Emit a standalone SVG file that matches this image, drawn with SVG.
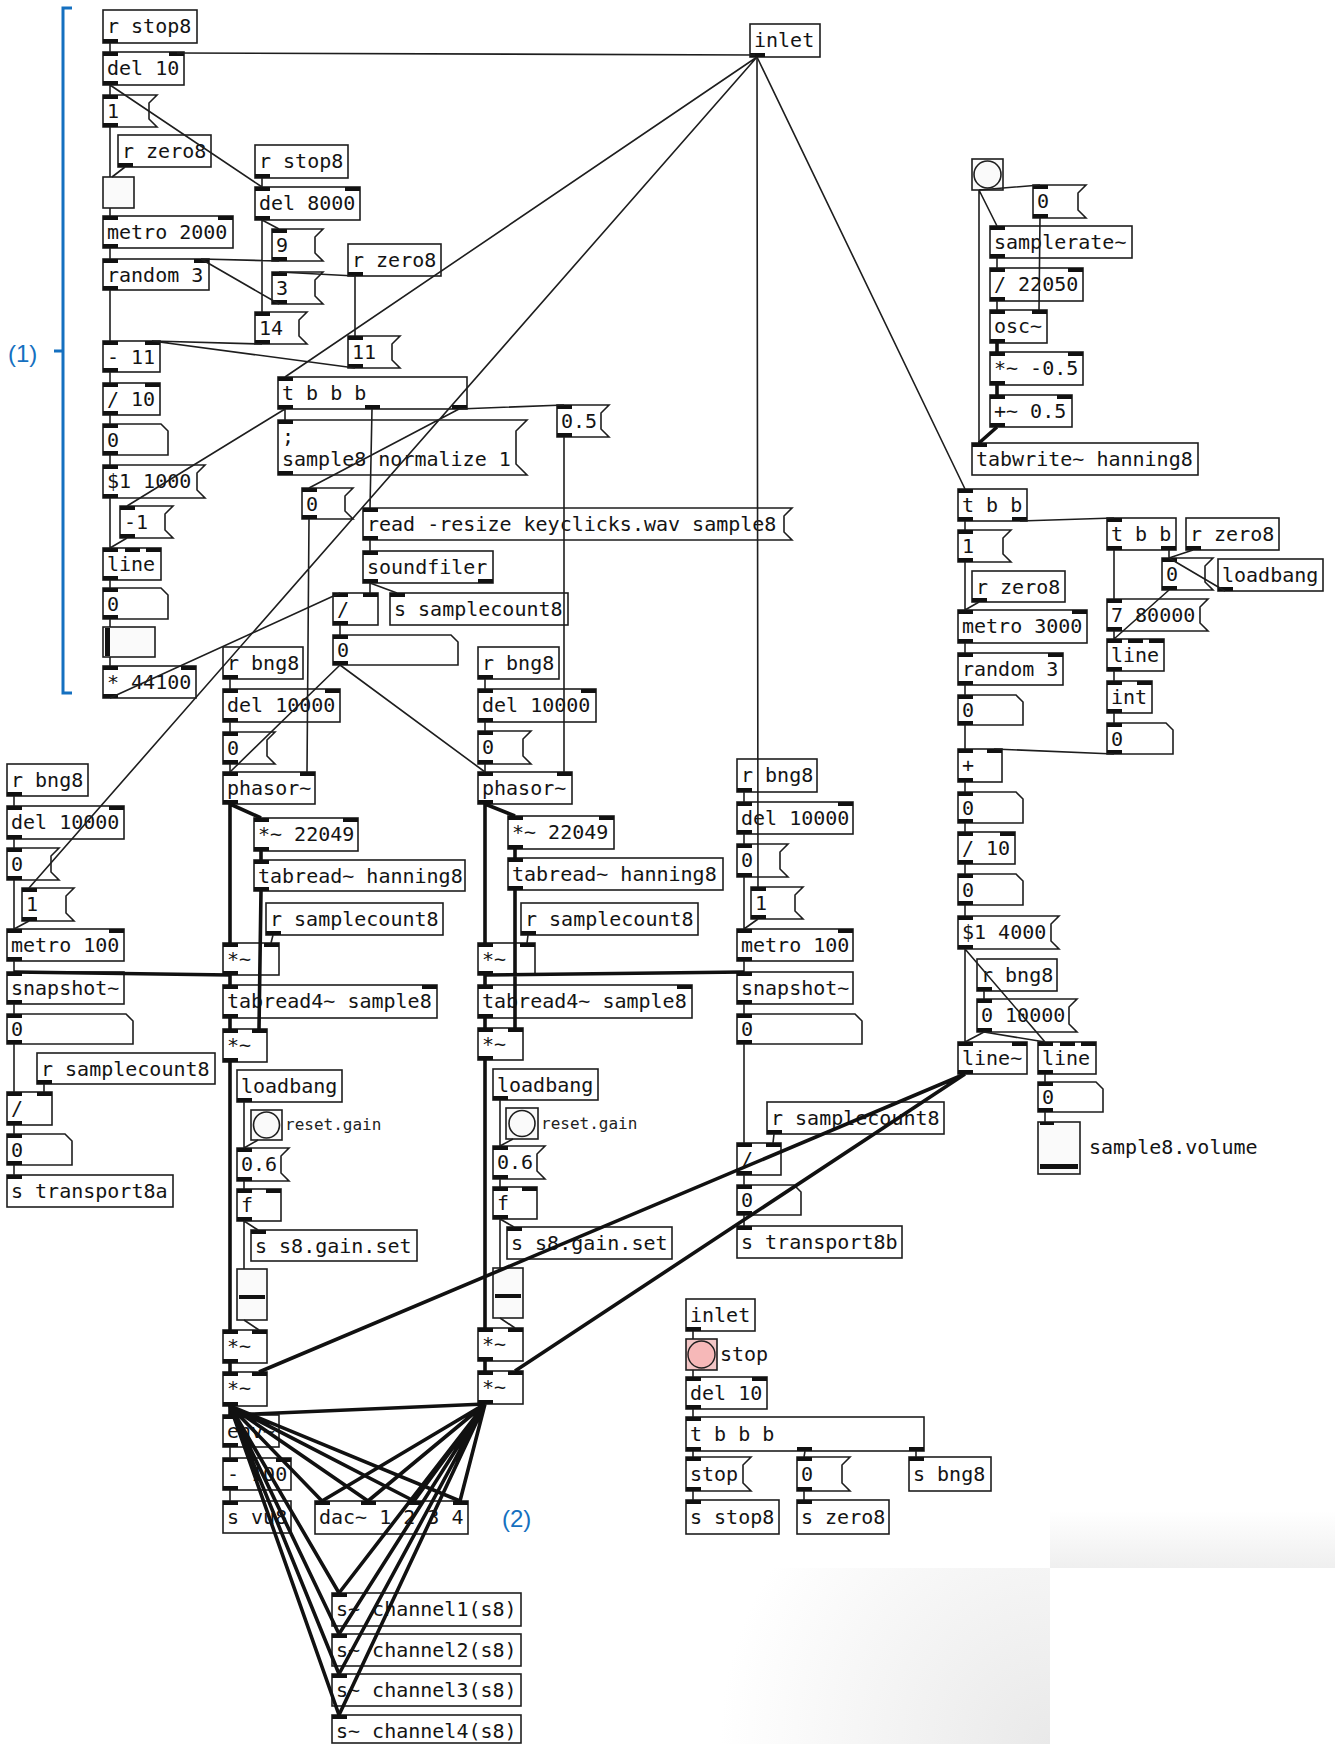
<svg xmlns="http://www.w3.org/2000/svg" width="1335" height="1744" viewBox="0 0 1335 1744">
<defs>
<style>
.b{fill:#fff;stroke:#1e1e1e;stroke-width:1.6}
.g{fill:#fafafa;stroke:#1e1e1e;stroke-width:1.6}
.t{font-family:"DejaVu Sans Mono","Liberation Mono",monospace;font-size:20px;fill:#141414}
.lbl{font-family:"DejaVu Sans Mono","Liberation Mono",monospace;font-size:16px;fill:#222}
.io{fill:#111}
.c{stroke:#1e1e1e;stroke-width:1.6;fill:none}
.s{stroke:#111;stroke-width:3.6;fill:none}
.blue{font-family:"Liberation Sans",Arial,sans-serif;font-size:24px;fill:#1570c0}
</style>
<linearGradient id="g1" x1="0" y1="0" x2="0" y2="1"><stop offset="0" stop-color="#fff"/><stop offset="1" stop-color="#efefef"/></linearGradient>
<radialGradient id="g2" cx="1050" cy="1744" r="330" gradientUnits="userSpaceOnUse"><stop offset="0" stop-color="#e9e9e9"/><stop offset="1" stop-color="#fff"/></radialGradient>
</defs>
<rect width="1335" height="1744" fill="#fff"/>
<g id="bg">
<rect x="1050" y="1511" width="285" height="57" fill="url(#g1)"/>
<rect x="700" y="1568" width="350" height="176" fill="url(#g2)"/>
</g>
<g id="annot">
<path d="M72,8 H63 V693 H72 M54,351 H63" stroke="#1570c0" stroke-width="3" fill="none"/>
<text class="blue" x="8" y="362">(1)</text>
<text class="blue" x="502" y="1527">(2)</text>
</g>
<g id="nodes">
<g id="n_rstop8a"><rect class="b" x="103" y="10" width="94" height="33"/><text class="t" x="107" y="33">r stop8</text><rect class="io" x="103" y="39" width="15" height="4"/></g>
<g id="n_del10a"><rect class="b" x="103" y="52" width="81" height="33"/><text class="t" x="107" y="75">del 10</text><rect class="io" x="103" y="52" width="15" height="4"/><rect class="io" x="169" y="52" width="15" height="4"/><rect class="io" x="103" y="81" width="15" height="4"/></g>
<g id="n_msg1a"><polygon class="b" points="103,95 157,95 149,103 149,119 157,127 103,127"/><text class="t" x="107" y="118">1</text><rect class="io" x="103" y="95" width="15" height="4"/><rect class="io" x="103" y="123" width="15" height="4"/></g>
<g id="n_rzero8a"><rect class="b" x="118" y="135" width="93" height="32"/><text class="t" x="122" y="158">r zero8</text><rect class="io" x="118" y="163" width="15" height="4"/></g>
<g id="n_tgl"><rect class="g" x="103" y="177" width="31" height="31"/></g>
<g id="n_metro2000"><rect class="b" x="103" y="216" width="130" height="32"/><text class="t" x="107" y="239">metro 2000</text><rect class="io" x="103" y="216" width="15" height="4"/><rect class="io" x="218" y="216" width="15" height="4"/><rect class="io" x="103" y="244" width="15" height="4"/></g>
<g id="n_random3a"><rect class="b" x="103" y="259" width="106" height="31"/><text class="t" x="107" y="282">random 3</text><rect class="io" x="103" y="259" width="15" height="4"/><rect class="io" x="194" y="259" width="15" height="4"/><rect class="io" x="103" y="286" width="15" height="4"/></g>
<g id="n_rstop8b"><rect class="b" x="255" y="145" width="93" height="33"/><text class="t" x="259" y="168">r stop8</text><rect class="io" x="255" y="174" width="15" height="4"/></g>
<g id="n_del8000"><rect class="b" x="255" y="187" width="105" height="33"/><text class="t" x="259" y="210">del 8000</text><rect class="io" x="255" y="187" width="15" height="4"/><rect class="io" x="345" y="187" width="15" height="4"/><rect class="io" x="255" y="216" width="15" height="4"/></g>
<g id="n_msg9"><polygon class="b" points="272,229 323,229 315,237 315,253 323,261 272,261"/><text class="t" x="276" y="252">9</text><rect class="io" x="272" y="229" width="15" height="4"/><rect class="io" x="272" y="257" width="15" height="4"/></g>
<g id="n_msg3"><polygon class="b" points="272,272 323,272 315,280 315,296 323,304 272,304"/><text class="t" x="276" y="295">3</text><rect class="io" x="272" y="272" width="15" height="4"/><rect class="io" x="272" y="300" width="15" height="4"/></g>
<g id="n_msg14"><polygon class="b" points="255,312 307,312 299,320 299,336 307,344 255,344"/><text class="t" x="259" y="335">14</text><rect class="io" x="255" y="312" width="15" height="4"/><rect class="io" x="255" y="340" width="15" height="4"/></g>
<g id="n_rzero8b"><rect class="b" x="348" y="244" width="93" height="32"/><text class="t" x="352" y="267">r zero8</text><rect class="io" x="348" y="272" width="15" height="4"/></g>
<g id="n_msg11"><polygon class="b" points="348,336 400,336 392,344 392,360 400,368 348,368"/><text class="t" x="352" y="359">11</text><rect class="io" x="348" y="336" width="15" height="4"/><rect class="io" x="348" y="364" width="15" height="4"/></g>
<g id="n_minus11"><rect class="b" x="103" y="341" width="57" height="31"/><text class="t" x="107" y="364">- 11</text><rect class="io" x="103" y="341" width="15" height="4"/><rect class="io" x="145" y="341" width="15" height="4"/><rect class="io" x="103" y="368" width="15" height="4"/></g>
<g id="n_div10a"><rect class="b" x="103" y="383" width="57" height="32"/><text class="t" x="107" y="406">/ 10</text><rect class="io" x="103" y="383" width="15" height="4"/><rect class="io" x="145" y="383" width="15" height="4"/><rect class="io" x="103" y="411" width="15" height="4"/></g>
<g id="n_nbx1"><polygon class="b" points="103,424 161,424 168,431 168,455 103,455"/><text class="t" x="107" y="447">0</text><rect class="io" x="103" y="424" width="15" height="4"/><rect class="io" x="103" y="451" width="15" height="4"/></g>
<g id="n_msgs1"><polygon class="b" points="103,465 205,465 197,473 197,490 205,498 103,498"/><text class="t" x="107" y="488">$1 1000</text><rect class="io" x="103" y="465" width="15" height="4"/><rect class="io" x="103" y="494" width="15" height="4"/></g>
<g id="n_msgm1"><polygon class="b" points="120,506 173,506 165,514 165,530 173,538 120,538"/><text class="t" x="124" y="529">-1</text><rect class="io" x="120" y="506" width="15" height="4"/><rect class="io" x="120" y="534" width="15" height="4"/></g>
<g id="n_line1"><rect class="b" x="103" y="548" width="58" height="32"/><text class="t" x="107" y="571">line</text><rect class="io" x="103" y="548" width="15" height="4"/><rect class="io" x="125" y="548" width="15" height="4"/><rect class="io" x="146" y="548" width="15" height="4"/><rect class="io" x="103" y="576" width="15" height="4"/></g>
<g id="n_nbx2"><polygon class="b" points="103,588 161,588 168,595 168,619 103,619"/><text class="t" x="107" y="611">0</text><rect class="io" x="103" y="588" width="15" height="4"/><rect class="io" x="103" y="615" width="15" height="4"/></g>
<g id="n_hsl"><rect class="g" x="103" y="627" width="52" height="30"/><rect class="io" x="105" y="628" width="5" height="28"/></g>
<g id="n_mul44100"><rect class="b" x="103" y="666" width="93" height="32"/><text class="t" x="107" y="689">* 44100</text><rect class="io" x="103" y="666" width="15" height="4"/><rect class="io" x="181" y="666" width="15" height="4"/><rect class="io" x="103" y="694" width="15" height="4"/></g>
<g id="n_tbbb"><rect class="b" x="278" y="377" width="189" height="32"/><text class="t" x="282" y="400">t b b b</text><rect class="io" x="278" y="377" width="15" height="4"/><rect class="io" x="278" y="405" width="15" height="4"/><rect class="io" x="365" y="405" width="15" height="4"/><rect class="io" x="452" y="405" width="15" height="4"/></g>
<g id="n_norm"><polygon class="b" points="278,420 527,420 516,431 516,464 527,475 278,475"/><text class="t" x="282" y="443">;</text><text class="t" x="282" y="466">sample8 normalize 1</text><rect class="io" x="278" y="420" width="15" height="4"/><rect class="io" x="278" y="471" width="15" height="4"/></g>
<g id="n_msg0b"><polygon class="b" points="302,488 353,488 345,496 345,511 353,519 302,519"/><text class="t" x="306" y="511">0</text><rect class="io" x="302" y="488" width="15" height="4"/><rect class="io" x="302" y="515" width="15" height="4"/></g>
<g id="n_msg05"><polygon class="b" points="557,405 609,405 601,413 601,429 609,437 557,437"/><text class="t" x="561" y="428">0.5</text><rect class="io" x="557" y="405" width="15" height="4"/><rect class="io" x="557" y="433" width="15" height="4"/></g>
<g id="n_read"><polygon class="b" points="363,508 792,508 784,516 784,532 792,540 363,540"/><text class="t" x="367" y="531">read -resize keyclicks.wav sample8</text><rect class="io" x="363" y="508" width="15" height="4"/><rect class="io" x="363" y="536" width="15" height="4"/></g>
<g id="n_soundfiler"><rect class="b" x="363" y="551" width="130" height="32"/><text class="t" x="367" y="574">soundfiler</text><rect class="io" x="363" y="551" width="15" height="4"/><rect class="io" x="363" y="579" width="15" height="4"/><rect class="io" x="478" y="579" width="15" height="4"/></g>
<g id="n_div"><rect class="b" x="333" y="593" width="45" height="32"/><text class="t" x="337" y="616">/</text><rect class="io" x="333" y="593" width="15" height="4"/><rect class="io" x="363" y="593" width="15" height="4"/><rect class="io" x="333" y="621" width="15" height="4"/></g>
<g id="n_ssc"><rect class="b" x="390" y="593" width="178" height="32"/><text class="t" x="394" y="616">s samplecount8</text><rect class="io" x="390" y="593" width="15" height="4"/></g>
<g id="n_nbx3"><polygon class="b" points="333,635 451,635 458,642 458,665 333,665"/><text class="t" x="337" y="657">0</text><rect class="io" x="333" y="635" width="15" height="4"/><rect class="io" x="333" y="661" width="15" height="4"/></g>
<g id="n_inlet1"><rect class="b" x="750" y="24" width="70" height="33"/><text class="t" x="754" y="47">inlet</text><rect class="io" x="750" y="53" width="15" height="4"/></g>

<g id="n_rbng_c2"><rect class="b" x="223" y="647" width="80" height="32"/><text class="t" x="227" y="670">r bng8</text><rect class="io" x="223" y="675" width="15" height="4"/></g>
<g id="n_del_c2"><rect class="b" x="223" y="689" width="117" height="33"/><text class="t" x="227" y="712">del 10000</text><rect class="io" x="223" y="689" width="15" height="4"/><rect class="io" x="325" y="689" width="15" height="4"/><rect class="io" x="223" y="718" width="15" height="4"/></g>
<g id="n_msg0_c2"><polygon class="b" points="223,732 275,732 267,740 267,756 275,764 223,764"/><text class="t" x="227" y="755">0</text><rect class="io" x="223" y="732" width="15" height="4"/><rect class="io" x="223" y="760" width="15" height="4"/></g>
<g id="n_phasor_c2"><rect class="b" x="223" y="772" width="92" height="32"/><text class="t" x="227" y="795">phasor~</text><rect class="io" x="223" y="772" width="15" height="4"/><rect class="io" x="300" y="772" width="15" height="4"/><rect class="io" x="223" y="800" width="15" height="4"/></g>
<g id="n_mul22049_c2"><rect class="b" x="254" y="818" width="104" height="33"/><text class="t" x="258" y="841">*~ 22049</text><rect class="io" x="254" y="818" width="15" height="4"/><rect class="io" x="343" y="818" width="15" height="4"/><rect class="io" x="254" y="847" width="15" height="4"/></g>
<g id="n_tabread_c2"><rect class="b" x="254" y="860" width="211" height="31"/><text class="t" x="258" y="883">tabread~ hanning8</text><rect class="io" x="254" y="860" width="15" height="4"/><rect class="io" x="254" y="887" width="15" height="4"/></g>
<g id="n_rsc_c2"><rect class="b" x="266" y="903" width="177" height="32"/><text class="t" x="270" y="926">r samplecount8</text><rect class="io" x="266" y="931" width="15" height="4"/></g>
<g id="n_mul1_c2"><rect class="b" x="223" y="943" width="56" height="32"/><text class="t" x="227" y="966">*~</text><rect class="io" x="223" y="943" width="15" height="4"/><rect class="io" x="264" y="943" width="15" height="4"/><rect class="io" x="223" y="971" width="15" height="4"/></g>
<g id="n_tabread4_c2"><rect class="b" x="223" y="985" width="214" height="33"/><text class="t" x="227" y="1008">tabread4~ sample8</text><rect class="io" x="223" y="985" width="15" height="4"/><rect class="io" x="422" y="985" width="15" height="4"/><rect class="io" x="223" y="1014" width="15" height="4"/></g>
<g id="n_mul2_c2"><rect class="b" x="223" y="1029" width="44" height="33"/><text class="t" x="227" y="1052">*~</text><rect class="io" x="223" y="1029" width="15" height="4"/><rect class="io" x="252" y="1029" width="15" height="4"/><rect class="io" x="223" y="1058" width="15" height="4"/></g>
<g id="n_loadbang_c2"><rect class="b" x="237" y="1070" width="105" height="32"/><text class="t" x="241" y="1093">loadbang</text><rect class="io" x="237" y="1098" width="15" height="4"/></g>
<g id="n_bng_c2"><rect class="g" x="251" y="1110" width="31" height="30"/><circle cx="266.5" cy="1125" r="13" fill="#fafafa" stroke="#1e1e1e" stroke-width="1.6"/><text class="lbl" x="285" y="1130">reset.gain</text></g>
<g id="n_msg06_c2"><polygon class="b" points="237,1148 289,1148 281,1156 281,1173 289,1181 237,1181"/><text class="t" x="241" y="1171">0.6</text><rect class="io" x="237" y="1148" width="15" height="4"/><rect class="io" x="237" y="1177" width="15" height="4"/></g>
<g id="n_f_c2"><rect class="b" x="237" y="1189" width="44" height="32"/><text class="t" x="241" y="1212">f</text><rect class="io" x="237" y="1189" width="15" height="4"/><rect class="io" x="266" y="1189" width="15" height="4"/><rect class="io" x="237" y="1217" width="15" height="4"/></g>
<g id="n_sgain_c2"><rect class="b" x="251" y="1230" width="166" height="31"/><text class="t" x="255" y="1253">s s8.gain.set</text><rect class="io" x="251" y="1230" width="15" height="4"/></g>
<g id="n_vsl_c2"><rect class="g" x="237" y="1269" width="30" height="51"/><rect class="io" x="239" y="1295" width="26" height="4"/></g>
<g id="n_mula_c2"><rect class="b" x="223" y="1330" width="44" height="33"/><text class="t" x="227" y="1353">*~</text><rect class="io" x="223" y="1330" width="15" height="4"/><rect class="io" x="252" y="1330" width="15" height="4"/><rect class="io" x="223" y="1359" width="15" height="4"/></g>
<g id="n_mulb_c2"><rect class="b" x="223" y="1372" width="44" height="34"/><text class="t" x="227" y="1395">*~</text><rect class="io" x="223" y="1372" width="15" height="4"/><rect class="io" x="252" y="1372" width="15" height="4"/><rect class="io" x="223" y="1402" width="15" height="4"/></g>
<g id="n_env"><rect class="b" x="223" y="1415" width="56" height="32"/><text class="t" x="227" y="1438">env~</text><rect class="io" x="223" y="1415" width="15" height="4"/><rect class="io" x="223" y="1443" width="15" height="4"/></g>
<g id="n_sub100"><rect class="b" x="223" y="1458" width="68" height="32"/><text class="t" x="227" y="1481">- 100</text><rect class="io" x="223" y="1458" width="15" height="4"/><rect class="io" x="276" y="1458" width="15" height="4"/><rect class="io" x="223" y="1486" width="15" height="4"/></g>
<g id="n_svu"><rect class="b" x="223" y="1501" width="68" height="32"/><text class="t" x="227" y="1524">s vu8</text><rect class="io" x="223" y="1501" width="15" height="4"/></g>
<g id="n_dac"><rect class="b" x="315" y="1501" width="153" height="33"/><text class="t" x="319" y="1524">dac~ 1 2 3 4</text><rect class="io" x="315" y="1501" width="15" height="4"/><rect class="io" x="361" y="1501" width="15" height="4"/><rect class="io" x="407" y="1501" width="15" height="4"/><rect class="io" x="453" y="1501" width="15" height="4"/></g>
<g id="n_ch1"><rect class="b" x="332" y="1593" width="189" height="33"/><text class="t" x="336" y="1616">s~ channel1(s8)</text><rect class="io" x="332" y="1593" width="15" height="4"/></g>
<g id="n_ch2"><rect class="b" x="332" y="1634" width="189" height="32"/><text class="t" x="336" y="1657">s~ channel2(s8)</text><rect class="io" x="332" y="1634" width="15" height="4"/></g>
<g id="n_ch3"><rect class="b" x="332" y="1674" width="189" height="32"/><text class="t" x="336" y="1697">s~ channel3(s8)</text><rect class="io" x="332" y="1674" width="15" height="4"/></g>
<g id="n_ch4"><rect class="b" x="332" y="1715" width="189" height="28"/><text class="t" x="336" y="1738">s~ channel4(s8)</text><rect class="io" x="332" y="1715" width="15" height="4"/></g>

<g id="n_rbng_c1"><rect class="b" x="7" y="764" width="81" height="32"/><text class="t" x="11" y="787">r bng8</text><rect class="io" x="7" y="792" width="15" height="4"/></g>
<g id="n_del_c1"><rect class="b" x="7" y="806" width="117" height="33"/><text class="t" x="11" y="829">del 10000</text><rect class="io" x="7" y="806" width="15" height="4"/><rect class="io" x="109" y="806" width="15" height="4"/><rect class="io" x="7" y="835" width="15" height="4"/></g>
<g id="n_msg0_c1"><polygon class="b" points="7,848 59,848 51,856 51,872 59,880 7,880"/><text class="t" x="11" y="871">0</text><rect class="io" x="7" y="848" width="15" height="4"/><rect class="io" x="7" y="876" width="15" height="4"/></g>
<g id="n_msg1_c1"><polygon class="b" points="22,888 74,888 66,896 66,913 74,921 22,921"/><text class="t" x="26" y="911">1</text><rect class="io" x="22" y="888" width="15" height="4"/><rect class="io" x="22" y="917" width="15" height="4"/></g>
<g id="n_metro100_c1"><rect class="b" x="7" y="929" width="117" height="32"/><text class="t" x="11" y="952">metro 100</text><rect class="io" x="7" y="929" width="15" height="4"/><rect class="io" x="109" y="929" width="15" height="4"/><rect class="io" x="7" y="957" width="15" height="4"/></g>
<g id="n_snap_c1"><rect class="b" x="7" y="972" width="117" height="32"/><text class="t" x="11" y="995">snapshot~</text><rect class="io" x="7" y="972" width="15" height="4"/><rect class="io" x="7" y="1000" width="15" height="4"/></g>
<g id="n_nbx_c1a"><polygon class="b" points="7,1014 126,1014 133,1021 133,1044 7,1044"/><text class="t" x="11" y="1036">0</text><rect class="io" x="7" y="1014" width="15" height="4"/><rect class="io" x="7" y="1040" width="15" height="4"/></g>
<g id="n_rsc_c1"><rect class="b" x="37" y="1053" width="178" height="31"/><text class="t" x="41" y="1076">r samplecount8</text><rect class="io" x="37" y="1080" width="15" height="4"/></g>
<g id="n_div_c1"><rect class="b" x="7" y="1092" width="45" height="33"/><text class="t" x="11" y="1115">/</text><rect class="io" x="7" y="1092" width="15" height="4"/><rect class="io" x="37" y="1092" width="15" height="4"/><rect class="io" x="7" y="1121" width="15" height="4"/></g>
<g id="n_nbx_c1b"><polygon class="b" points="7,1134 65,1134 72,1141 72,1165 7,1165"/><text class="t" x="11" y="1157">0</text><rect class="io" x="7" y="1134" width="15" height="4"/><rect class="io" x="7" y="1161" width="15" height="4"/></g>
<g id="n_stransA"><rect class="b" x="7" y="1175" width="166" height="32"/><text class="t" x="11" y="1198">s transport8a</text><rect class="io" x="7" y="1175" width="15" height="4"/></g>

<g id="n_rbng_c3"><rect class="b" x="478" y="647" width="81" height="32"/><text class="t" x="482" y="670">r bng8</text><rect class="io" x="478" y="675" width="15" height="4"/></g>
<g id="n_del_c3"><rect class="b" x="478" y="689" width="118" height="33"/><text class="t" x="482" y="712">del 10000</text><rect class="io" x="478" y="689" width="15" height="4"/><rect class="io" x="581" y="689" width="15" height="4"/><rect class="io" x="478" y="718" width="15" height="4"/></g>
<g id="n_msg0_c3"><polygon class="b" points="478,731 531,731 523,739 523,756 531,764 478,764"/><text class="t" x="482" y="754">0</text><rect class="io" x="478" y="731" width="15" height="4"/><rect class="io" x="478" y="760" width="15" height="4"/></g>
<g id="n_phasor_c3"><rect class="b" x="478" y="772" width="94" height="32"/><text class="t" x="482" y="795">phasor~</text><rect class="io" x="478" y="772" width="15" height="4"/><rect class="io" x="557" y="772" width="15" height="4"/><rect class="io" x="478" y="800" width="15" height="4"/></g>
<g id="n_mul22049_c3"><rect class="b" x="508" y="816" width="106" height="33"/><text class="t" x="512" y="839">*~ 22049</text><rect class="io" x="508" y="816" width="15" height="4"/><rect class="io" x="599" y="816" width="15" height="4"/><rect class="io" x="508" y="845" width="15" height="4"/></g>
<g id="n_tabread_c3"><rect class="b" x="508" y="858" width="215" height="32"/><text class="t" x="512" y="881">tabread~ hanning8</text><rect class="io" x="508" y="858" width="15" height="4"/><rect class="io" x="508" y="886" width="15" height="4"/></g>
<g id="n_rsc_c3"><rect class="b" x="521" y="903" width="177" height="32"/><text class="t" x="525" y="926">r samplecount8</text><rect class="io" x="521" y="931" width="15" height="4"/></g>
<g id="n_mul1_c3"><rect class="b" x="478" y="943" width="57" height="32"/><text class="t" x="482" y="966">*~</text><rect class="io" x="478" y="943" width="15" height="4"/><rect class="io" x="520" y="943" width="15" height="4"/><rect class="io" x="478" y="971" width="15" height="4"/></g>
<g id="n_tabread4_c3"><rect class="b" x="478" y="985" width="214" height="33"/><text class="t" x="482" y="1008">tabread4~ sample8</text><rect class="io" x="478" y="985" width="15" height="4"/><rect class="io" x="677" y="985" width="15" height="4"/><rect class="io" x="478" y="1014" width="15" height="4"/></g>
<g id="n_mul2_c3"><rect class="b" x="478" y="1028" width="45" height="32"/><text class="t" x="482" y="1051">*~</text><rect class="io" x="478" y="1028" width="15" height="4"/><rect class="io" x="508" y="1028" width="15" height="4"/><rect class="io" x="478" y="1056" width="15" height="4"/></g>
<g id="n_loadbang_c3"><rect class="b" x="493" y="1069" width="105" height="31"/><text class="t" x="497" y="1092">loadbang</text><rect class="io" x="493" y="1096" width="15" height="4"/></g>
<g id="n_bng_c3"><rect class="g" x="506" y="1108" width="32" height="31"/><circle cx="522" cy="1123.5" r="13" fill="#fafafa" stroke="#1e1e1e" stroke-width="1.6"/><text class="lbl" x="541" y="1129">reset.gain</text></g>
<g id="n_msg06_c3"><polygon class="b" points="493,1146 545,1146 537,1154 537,1171 545,1179 493,1179"/><text class="t" x="497" y="1169">0.6</text><rect class="io" x="493" y="1146" width="15" height="4"/><rect class="io" x="493" y="1175" width="15" height="4"/></g>
<g id="n_f_c3"><rect class="b" x="493" y="1187" width="44" height="32"/><text class="t" x="497" y="1210">f</text><rect class="io" x="493" y="1187" width="15" height="4"/><rect class="io" x="522" y="1187" width="15" height="4"/><rect class="io" x="493" y="1215" width="15" height="4"/></g>
<g id="n_sgain_c3"><rect class="b" x="507" y="1227" width="165" height="32"/><text class="t" x="511" y="1250">s s8.gain.set</text><rect class="io" x="507" y="1227" width="15" height="4"/></g>
<g id="n_vsl_c3"><rect class="g" x="493" y="1268" width="30" height="50"/><rect class="io" x="495" y="1294" width="26" height="4"/></g>
<g id="n_mula_c3"><rect class="b" x="478" y="1328" width="45" height="33"/><text class="t" x="482" y="1351">*~</text><rect class="io" x="478" y="1328" width="15" height="4"/><rect class="io" x="508" y="1328" width="15" height="4"/><rect class="io" x="478" y="1357" width="15" height="4"/></g>
<g id="n_mulb_c3"><rect class="b" x="478" y="1371" width="45" height="33"/><text class="t" x="482" y="1394">*~</text><rect class="io" x="478" y="1371" width="15" height="4"/><rect class="io" x="508" y="1371" width="15" height="4"/><rect class="io" x="478" y="1400" width="15" height="4"/></g>

<g id="n_rbng_c4"><rect class="b" x="737" y="759" width="80" height="33"/><text class="t" x="741" y="782">r bng8</text><rect class="io" x="737" y="788" width="15" height="4"/></g>
<g id="n_del_c4"><rect class="b" x="737" y="802" width="116" height="32"/><text class="t" x="741" y="825">del 10000</text><rect class="io" x="737" y="802" width="15" height="4"/><rect class="io" x="838" y="802" width="15" height="4"/><rect class="io" x="737" y="830" width="15" height="4"/></g>
<g id="n_msg0_c4"><polygon class="b" points="737,844 788,844 780,852 780,869 788,877 737,877"/><text class="t" x="741" y="867">0</text><rect class="io" x="737" y="844" width="15" height="4"/><rect class="io" x="737" y="873" width="15" height="4"/></g>
<g id="n_msg1_c4"><polygon class="b" points="751,887 803,887 795,895 795,911 803,919 751,919"/><text class="t" x="755" y="910">1</text><rect class="io" x="751" y="887" width="15" height="4"/><rect class="io" x="751" y="915" width="15" height="4"/></g>
<g id="n_metro_c4"><rect class="b" x="737" y="929" width="116" height="32"/><text class="t" x="741" y="952">metro 100</text><rect class="io" x="737" y="929" width="15" height="4"/><rect class="io" x="838" y="929" width="15" height="4"/><rect class="io" x="737" y="957" width="15" height="4"/></g>
<g id="n_snap_c4"><rect class="b" x="737" y="972" width="116" height="32"/><text class="t" x="741" y="995">snapshot~</text><rect class="io" x="737" y="972" width="15" height="4"/><rect class="io" x="737" y="1000" width="15" height="4"/></g>
<g id="n_nbx_c4a"><polygon class="b" points="737,1014 855,1014 862,1021 862,1044 737,1044"/><text class="t" x="741" y="1036">0</text><rect class="io" x="737" y="1014" width="15" height="4"/><rect class="io" x="737" y="1040" width="15" height="4"/></g>
<g id="n_rsc_c4"><rect class="b" x="767" y="1102" width="177" height="32"/><text class="t" x="771" y="1125">r samplecount8</text><rect class="io" x="767" y="1130" width="15" height="4"/></g>
<g id="n_div_c4"><rect class="b" x="737" y="1143" width="44" height="32"/><text class="t" x="741" y="1166">/</text><rect class="io" x="737" y="1143" width="15" height="4"/><rect class="io" x="766" y="1143" width="15" height="4"/><rect class="io" x="737" y="1171" width="15" height="4"/></g>
<g id="n_nbx_c4b"><polygon class="b" points="737,1185 794,1185 801,1192 801,1215 737,1215"/><text class="t" x="741" y="1207">0</text><rect class="io" x="737" y="1185" width="15" height="4"/><rect class="io" x="737" y="1211" width="15" height="4"/></g>
<g id="n_stransB"><rect class="b" x="737" y="1226" width="165" height="32"/><text class="t" x="741" y="1249">s transport8b</text><rect class="io" x="737" y="1226" width="15" height="4"/></g>

<g id="n_inlet2"><rect class="b" x="686" y="1299" width="69" height="32"/><text class="t" x="690" y="1322">inlet</text><rect class="io" x="686" y="1327" width="15" height="4"/></g>
<g id="n_bng_stop"><rect x="686" y="1339" width="31" height="31" fill="#f3c6c6" stroke="#1e1e1e" stroke-width="1.6"/><circle cx="701.5" cy="1354.5" r="13.5" fill="#f6b8b8" stroke="#1e1e1e" stroke-width="1.4"/><text class="t" x="720" y="1361">stop</text></g>
<g id="n_del10b"><rect class="b" x="686" y="1377" width="81" height="32"/><text class="t" x="690" y="1400">del 10</text><rect class="io" x="686" y="1377" width="15" height="4"/><rect class="io" x="752" y="1377" width="15" height="4"/><rect class="io" x="686" y="1405" width="15" height="4"/></g>
<g id="n_tbbb2"><rect class="b" x="686" y="1417" width="238" height="34"/><text class="t" x="690" y="1441">t b b b</text><rect class="io" x="686" y="1417" width="15" height="4"/><rect class="io" x="686" y="1447" width="15" height="4"/><rect class="io" x="797" y="1447" width="15" height="4"/><rect class="io" x="909" y="1447" width="15" height="4"/></g>
<g id="n_msgstop"><polygon class="b" points="686,1457 751,1457 743,1465 743,1483 751,1491 686,1491"/><text class="t" x="690" y="1481">stop</text><rect class="io" x="686" y="1457" width="15" height="4"/><rect class="io" x="686" y="1487" width="15" height="4"/></g>
<g id="n_msg0z"><polygon class="b" points="797,1457 850,1457 842,1465 842,1483 850,1491 797,1491"/><text class="t" x="801" y="1481">0</text><rect class="io" x="797" y="1457" width="15" height="4"/><rect class="io" x="797" y="1487" width="15" height="4"/></g>
<g id="n_sbng8"><rect class="b" x="909" y="1457" width="82" height="34"/><text class="t" x="913" y="1481">s bng8</text><rect class="io" x="909" y="1457" width="15" height="4"/></g>
<g id="n_sstop8"><rect class="b" x="686" y="1500" width="93" height="34"/><text class="t" x="690" y="1524">s stop8</text><rect class="io" x="686" y="1500" width="15" height="4"/></g>
<g id="n_szero8"><rect class="b" x="797" y="1500" width="92" height="34"/><text class="t" x="801" y="1524">s zero8</text><rect class="io" x="797" y="1500" width="15" height="4"/></g>

<g id="n_bng_top"><rect class="g" x="972" y="159" width="31" height="31"/><circle cx="987.5" cy="174.5" r="13.5" fill="#fafafa" stroke="#1e1e1e" stroke-width="1.6"/></g>
<g id="n_msg0_r"><polygon class="b" points="1033,185 1086,185 1078,193 1078,210 1086,218 1033,218"/><text class="t" x="1037" y="208">0</text><rect class="io" x="1033" y="185" width="15" height="4"/><rect class="io" x="1033" y="214" width="15" height="4"/></g>
<g id="n_sr"><rect class="b" x="990" y="226" width="142" height="32"/><text class="t" x="994" y="249">samplerate~</text><rect class="io" x="990" y="226" width="15" height="4"/><rect class="io" x="990" y="254" width="15" height="4"/></g>
<g id="n_div22050"><rect class="b" x="990" y="268" width="93" height="33"/><text class="t" x="994" y="291">/ 22050</text><rect class="io" x="990" y="268" width="15" height="4"/><rect class="io" x="1068" y="268" width="15" height="4"/><rect class="io" x="990" y="297" width="15" height="4"/></g>
<g id="n_osc"><rect class="b" x="990" y="310" width="57" height="33"/><text class="t" x="994" y="333">osc~</text><rect class="io" x="990" y="310" width="15" height="4"/><rect class="io" x="1032" y="310" width="15" height="4"/><rect class="io" x="990" y="339" width="15" height="4"/></g>
<g id="n_mulm05"><rect class="b" x="990" y="352" width="93" height="33"/><text class="t" x="994" y="375">*~ -0.5</text><rect class="io" x="990" y="352" width="15" height="4"/><rect class="io" x="1068" y="352" width="15" height="4"/><rect class="io" x="990" y="381" width="15" height="4"/></g>
<g id="n_add05"><rect class="b" x="990" y="395" width="82" height="32"/><text class="t" x="994" y="418">+~ 0.5</text><rect class="io" x="990" y="395" width="15" height="4"/><rect class="io" x="1057" y="395" width="15" height="4"/><rect class="io" x="990" y="423" width="15" height="4"/></g>
<g id="n_tabwrite"><rect class="b" x="972" y="443" width="226" height="32"/><text class="t" x="976" y="466">tabwrite~ hanning8</text><rect class="io" x="972" y="443" width="15" height="4"/></g>
<g id="n_tbb1"><rect class="b" x="958" y="489" width="69" height="32"/><text class="t" x="962" y="512">t b b</text><rect class="io" x="958" y="489" width="15" height="4"/><rect class="io" x="958" y="517" width="15" height="4"/><rect class="io" x="1012" y="517" width="15" height="4"/></g>
<g id="n_msg1_r"><polygon class="b" points="958,530 1011,530 1003,538 1003,554 1011,562 958,562"/><text class="t" x="962" y="553">1</text><rect class="io" x="958" y="530" width="15" height="4"/><rect class="io" x="958" y="558" width="15" height="4"/></g>
<g id="n_rzero8_r"><rect class="b" x="972" y="571" width="93" height="31"/><text class="t" x="976" y="594">r zero8</text><rect class="io" x="972" y="598" width="15" height="4"/></g>
<g id="n_metro3000"><rect class="b" x="958" y="610" width="129" height="33"/><text class="t" x="962" y="633">metro 3000</text><rect class="io" x="958" y="610" width="15" height="4"/><rect class="io" x="1072" y="610" width="15" height="4"/><rect class="io" x="958" y="639" width="15" height="4"/></g>
<g id="n_random3b"><rect class="b" x="958" y="653" width="105" height="32"/><text class="t" x="962" y="676">random 3</text><rect class="io" x="958" y="653" width="15" height="4"/><rect class="io" x="1048" y="653" width="15" height="4"/><rect class="io" x="958" y="681" width="15" height="4"/></g>
<g id="n_nbx_r1"><polygon class="b" points="958,695 1016,695 1023,702 1023,725 958,725"/><text class="t" x="962" y="717">0</text><rect class="io" x="958" y="695" width="15" height="4"/><rect class="io" x="958" y="721" width="15" height="4"/></g>
<g id="n_plus"><rect class="b" x="958" y="749" width="44" height="33"/><text class="t" x="962" y="772">+</text><rect class="io" x="958" y="749" width="15" height="4"/><rect class="io" x="987" y="749" width="15" height="4"/><rect class="io" x="958" y="778" width="15" height="4"/></g>
<g id="n_nbx_r2"><polygon class="b" points="958,792 1016,792 1023,799 1023,823 958,823"/><text class="t" x="962" y="815">0</text><rect class="io" x="958" y="792" width="15" height="4"/><rect class="io" x="958" y="819" width="15" height="4"/></g>
<g id="n_div10b"><rect class="b" x="958" y="832" width="57" height="32"/><text class="t" x="962" y="855">/ 10</text><rect class="io" x="958" y="832" width="15" height="4"/><rect class="io" x="1000" y="832" width="15" height="4"/><rect class="io" x="958" y="860" width="15" height="4"/></g>
<g id="n_nbx_r3"><polygon class="b" points="958,874 1016,874 1023,881 1023,905 958,905"/><text class="t" x="962" y="897">0</text><rect class="io" x="958" y="874" width="15" height="4"/><rect class="io" x="958" y="901" width="15" height="4"/></g>
<g id="n_msg_s4000"><polygon class="b" points="958,916 1059,916 1051,924 1051,941 1059,949 958,949"/><text class="t" x="962" y="939">$1 4000</text><rect class="io" x="958" y="916" width="15" height="4"/><rect class="io" x="958" y="945" width="15" height="4"/></g>
<g id="n_rbng_r"><rect class="b" x="977" y="959" width="80" height="32"/><text class="t" x="981" y="982">r bng8</text><rect class="io" x="977" y="987" width="15" height="4"/></g>
<g id="n_msg010000"><polygon class="b" points="977,999 1077,999 1069,1007 1069,1024 1077,1032 977,1032"/><text class="t" x="981" y="1022">0 10000</text><rect class="io" x="977" y="999" width="15" height="4"/><rect class="io" x="977" y="1028" width="15" height="4"/></g>
<g id="n_linetilde"><rect class="b" x="958" y="1042" width="69" height="32"/><text class="t" x="962" y="1065">line~</text><rect class="io" x="958" y="1042" width="15" height="4"/><rect class="io" x="1012" y="1042" width="15" height="4"/><rect class="io" x="958" y="1070" width="15" height="4"/></g>
<g id="n_line_r"><rect class="b" x="1038" y="1042" width="58" height="32"/><text class="t" x="1042" y="1065">line</text><rect class="io" x="1038" y="1042" width="15" height="4"/><rect class="io" x="1060" y="1042" width="15" height="4"/><rect class="io" x="1081" y="1042" width="15" height="4"/><rect class="io" x="1038" y="1070" width="15" height="4"/></g>
<g id="n_nbx_r4"><polygon class="b" points="1038,1082 1096,1082 1103,1089 1103,1112 1038,1112"/><text class="t" x="1042" y="1104">0</text><rect class="io" x="1038" y="1082" width="15" height="4"/><rect class="io" x="1038" y="1108" width="15" height="4"/></g>
<g id="n_vsl_r"><rect class="g" x="1038" y="1122" width="42" height="52"/><rect class="io" x="1040" y="1122" width="14" height="3"/><rect class="io" x="1040" y="1164" width="38" height="5"/><text class="t" x="1089" y="1154">sample8.volume</text></g>
<g id="n_tbb2"><rect class="b" x="1107" y="518" width="69" height="32"/><text class="t" x="1111" y="541">t b b</text><rect class="io" x="1107" y="518" width="15" height="4"/><rect class="io" x="1107" y="546" width="15" height="4"/><rect class="io" x="1161" y="546" width="15" height="4"/></g>
<g id="n_rzero8_r2"><rect class="b" x="1186" y="518" width="93" height="32"/><text class="t" x="1190" y="541">r zero8</text><rect class="io" x="1186" y="546" width="15" height="4"/></g>
<g id="n_msg0_r2"><polygon class="b" points="1162,558 1213,558 1205,566 1205,582 1213,590 1162,590"/><text class="t" x="1166" y="581">0</text><rect class="io" x="1162" y="558" width="15" height="4"/><rect class="io" x="1162" y="586" width="15" height="4"/></g>
<g id="n_loadbang_r"><rect class="b" x="1218" y="559" width="105" height="32"/><text class="t" x="1222" y="582">loadbang</text><rect class="io" x="1218" y="587" width="15" height="4"/></g>
<g id="n_msg780000"><polygon class="b" points="1107,599 1208,599 1200,607 1200,623 1208,631 1107,631"/><text class="t" x="1111" y="622">7 80000</text><rect class="io" x="1107" y="599" width="15" height="4"/><rect class="io" x="1107" y="627" width="15" height="4"/></g>
<g id="n_line_r2"><rect class="b" x="1107" y="639" width="57" height="32"/><text class="t" x="1111" y="662">line</text><rect class="io" x="1107" y="639" width="15" height="4"/><rect class="io" x="1128" y="639" width="15" height="4"/><rect class="io" x="1149" y="639" width="15" height="4"/><rect class="io" x="1107" y="667" width="15" height="4"/></g>
<g id="n_int"><rect class="b" x="1107" y="681" width="45" height="32"/><text class="t" x="1111" y="704">int</text><rect class="io" x="1107" y="681" width="15" height="4"/><rect class="io" x="1137" y="681" width="15" height="4"/><rect class="io" x="1107" y="709" width="15" height="4"/></g>
<g id="n_nbx_r5"><polygon class="b" points="1107,723 1166,723 1173,730 1173,754 1107,754"/><text class="t" x="1111" y="746">0</text><rect class="io" x="1107" y="723" width="15" height="4"/><rect class="io" x="1107" y="750" width="15" height="4"/></g>
</g>

<g id="connectors">
<path class="c" d="M110,43 L110,52 M755,55 L177,53 M110,85 L110,95 M110,85 L262,187 M110,127 L110,177 M125,167 L112,177 M110,208 L110,216 M110,248 L110,259 M279,261 L201,259 M279,304 L201,259 M110,290 L110,341 M262,178 L262,187 M262,220 L279,229 M262,220 L262,312 M355,276 L279,272 M355,276 L355,336 M262,344 L152,341 M355,368 L152,341 M110,372 L110,383 M110,415 L110,424 M110,455 L110,465 M110,498 L110,548 M127,538 L110,548 M110,580 L110,588 M110,619 L110,627 M110,657 L110,666 M110,698 L340,593"/>
<path class="c" d="M757,57 L285,377 M757,57 L29,888 M285,409 L285,420 M285,409 L127,506 M372,409 L370,508 M459,409 L564,405 M459,409 L309,488 M370,540 L370,551 M370,583 L370,593 M370,583 L397,593 M340,625 L340,635 M340,665 L230,772 M340,665 L485,772 M309,519 L307,772 M564,437 L564,772"/>
<path class="c" d="M230,679 L230,689 M230,722 L230,732 M230,764 L230,772 M273,935 L271,943 M244,1102 L244,1148 M258,1140 L244,1148 M244,1181 L244,1189 M244,1221 L258,1230 M244,1221 L244,1269 M244,1320 L259,1330 M230,1447 L230,1458 M230,1490 L230,1501"/>
<path class="c" d="M485,679 L485,689 M485,722 L485,731 M485,764 L485,772 M528,935 L527,943 M500,1100 L500,1146 M513,1139 L500,1146 M500,1179 L500,1187 M500,1219 L514,1227 M500,1219 L500,1268 M500,1318 L515,1328"/>
<path class="c" d="M14,796 L14,806 M14,839 L14,848 M14,880 L14,929 M29,921 L14,929 M14,961 L14,972 M14,1004 L14,1014 M14,1044 L14,1092 M44,1084 L44,1092 M14,1125 L14,1134 M14,1165 L14,1175"/>
<path class="c" d="M744,792 L744,802 M744,834 L744,844 M744,877 L744,929 M757,57 L758,887 M758,919 L744,929 M744,961 L744,972 M744,1004 L744,1014 M744,1044 L744,1143 M774,1134 L773,1143 M744,1175 L744,1185 M744,1215 L744,1226"/>
<path class="c" d="M693,1331 L693,1339 M693,1370 L693,1377 M693,1409 L693,1417 M693,1451 L693,1457 M805,1451 L804,1457 M916,1451 L916,1457 M693,1491 L693,1500 M804,1491 L804,1500"/>
<path class="c" d="M979,190 L997,226 M979,190 L979,443 M979,190 L1040,185 M1040,218 L1039,310 M997,258 L997,268 M997,301 L997,310 M757,57 L965,489 M965,521 L965,530 M1020,521 L1114,518 M965,562 L965,610 M979,602 L965,610 M965,643 L965,653 M965,685 L965,695 M965,725 L965,749 M1114,754 L994,749 M965,782 L965,792 M965,823 L965,832 M965,864 L965,874 M965,905 L965,916 M965,949 L965,1042 M965,949 L1045,1042 M984,991 L984,999 M984,1032 L965,1042 M984,1032 L1045,1042 M1045,1074 L1045,1082 M1045,1112 L1045,1122 M1114,550 L1114,599 M1169,550 L1169,558 M1193,550 L1169,558 M1225,591 L1169,558 M1169,590 L1114,639 M1114,631 L1114,639 M1114,671 L1114,681 M1114,713 L1114,723"/>
<path class="s" d="M230,804 L261,818 M230,804 L230,943 M261,851 L261,860 M261,891 L259,1029 M230,975 L230,985 M230,975 L14,972 M230,1018 L230,1029 M230,1062 L230,1330 M230,1363 L230,1372"/>
<path class="s" d="M485,804 L515,816 M485,804 L485,943 M515,849 L515,858 M515,890 L515,1028 M485,975 L485,985 M485,975 L744,972 M485,1018 L485,1028 M485,1060 L485,1328 M485,1361 L485,1371"/>
<path class="s" d="M997,343 L997,352 M997,385 L997,395 M997,427 L979,443"/>
<path class="s" d="M965,1074 L259,1372 M965,1074 L515,1371 M230,1406 L230,1415 M485,1404 L230,1415"/>
<path class="s" d="M230,1406 L322,1501 M230,1406 L368,1501 M230,1406 L414,1501 M230,1406 L460,1501 M230,1406 L339,1593 M230,1406 L339,1634 M230,1406 L339,1674 M230,1406 L339,1715"/>
<path class="s" d="M485,1404 L322,1501 M485,1404 L368,1501 M485,1404 L414,1501 M485,1404 L460,1501 M485,1404 L339,1593 M485,1404 L339,1634 M485,1404 L339,1674 M485,1404 L339,1715"/>
</g>
</svg>
